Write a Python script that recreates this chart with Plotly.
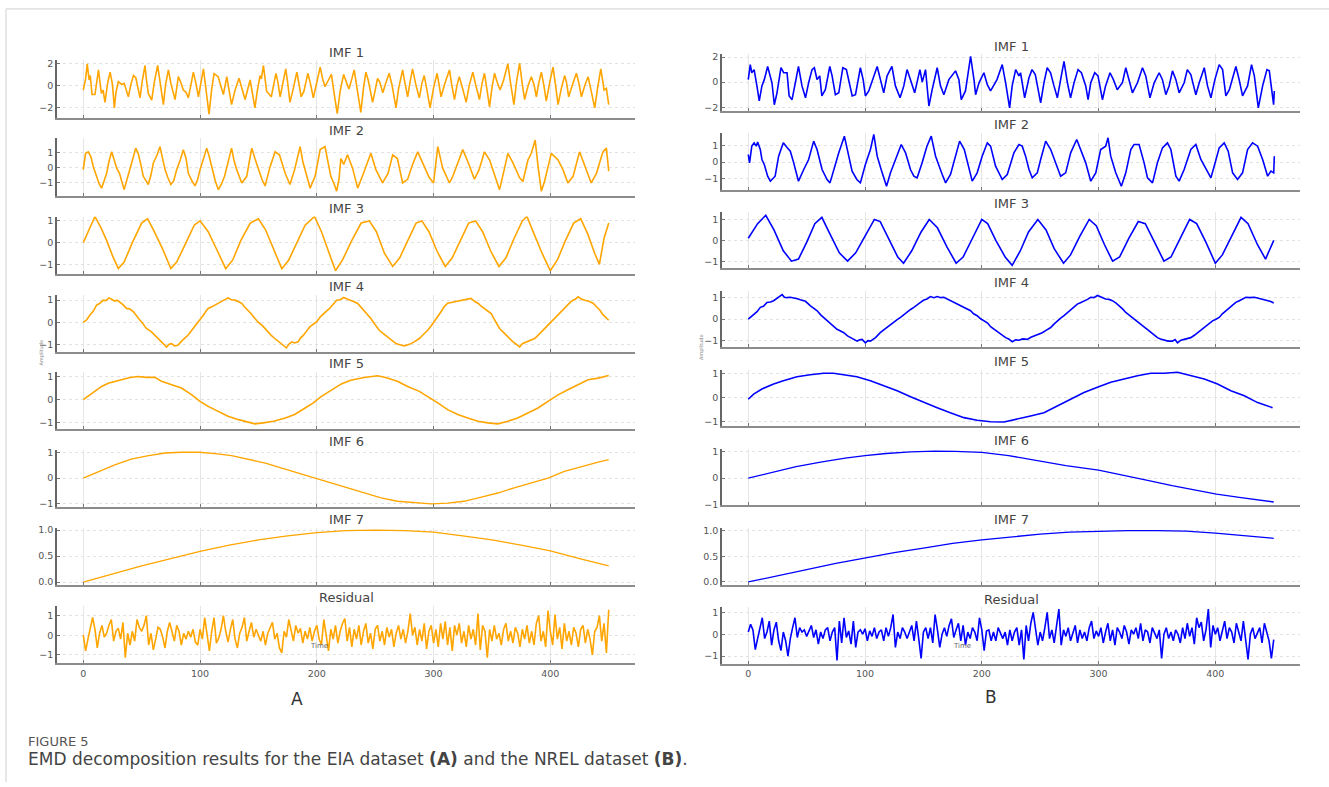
import plotly.graph_objects as go

W, H = 1329, 787

TITLES = ["IMF 1", "IMF 2", "IMF 3", "IMF 4", "IMF 5", "IMF 6", "IMF 7", "Residual"]
X_TICKS = [0, 100, 200, 300, 400]
Y_TICKS = [[-2, 0, 2], [-1, 0, 1], [-1, 0, 1], [-1, 0, 1], [-1, 0, 1], [-1, 0, 1], [0, 0.5, 1.0], [-1, 0, 1]]

# ---------------- Panel A (EIA) : (time, value) pairs ----------------
A_IMF1 = [(0,-0.4),(2,0.6),(3.4,1.95),(5,0.5),(6,0.9),(7.5,-0.8),(10,-0.8),(13,1.4),(15.5,-0.7),(17,-0.4),(18.6,-1.5),(21,0.3),(23,1.2),(25,0.1),(26.6,-2.0),(28,-0.6),(30,0.35),(33,0.1),(35,0.2),(38.6,-1.0),(41,0.2),(43,0.9),(45,0.7),(48.6,-1.1),(50.5,0.4),(52.9,1.8),(54,0.6),(55.7,-0.7),(58.6,-1.3),(61,0.4),(63.7,1.8),(66,0.2),(68.6,-1.7),(70.5,0.1),(72.9,1.4),(75,0.2),(78.6,-1.25),(81.4,0.8),(83.5,0.3),(85.7,-0.4),(88,-0.6),(90,-1.1),(94.3,1.2),(96.5,0.2),(98.6,-1.0),(102.9,1.5),(105,-0.2),(107.7,-2.55),(110,-0.3),(112,1.07),(115.5,0.8),(117.5,0.0),(120,-0.8),(122.9,0.8),(125,-0.5),(127,-1.7),(130,-0.4),(133.4,0.65),(136,-0.3),(138.6,-1.25),(142.9,0.5),(145,-0.8),(147,-2.0),(149,-0.5),(151.4,0.9),(152.5,0.6),(154.3,1.8),(157,-0.5),(161,-1.0),(165,1.1),(166.5,0.4),(168.6,-1.0),(171,0.2),(173.4,1.5),(175,0.3),(177,-1.5),(180,-0.2),(182.9,1.2),(184.5,0.3),(186.6,-1.0),(189,-0.5),(192.3,1.1),(194.5,0.2),(197,-1.1),(200,0.3),(202.9,1.65),(205,0.6),(207,-0.1),(210,0.5),(212.5,1.0),(215,-0.8),(217.5,-2.5),(220,-0.5),(223,1.0),(225,0.4),(227.5,-0.3),(230,0.6),(232,1.4),(235,-0.6),(237.7,-2.4),(240,-0.2),(242,1.2),(244,0.5),(247.8,-1.5),(250,-0.4),(252,0.65),(254,0.3),(256.5,-0.65),(259,0.2),(262,1.1),(264.5,0.0),(267.8,-2.0),(270,-0.3),(273.5,1.4),(275.5,0.2),(277.8,-1.0),(280,0.4),(282,1.5),(285,0.0),(287.8,-1.1),(290,0.2),(292,0.9),(294.5,-0.5),(297,-2.0),(300,-0.2),(303,1.1),(304.5,0.2),(306.4,-1.0),(310,0.3),(313.6,1.4),(315.5,0.1),(317.9,-1.25),(320,0.0),(322,0.8),(325,-0.3),(327.9,-1.5),(330.5,0.0),(333.6,1.2),(336,0.1),(339.3,-1.25),(341.5,0.2),(343.6,1.1),(345.5,-0.2),(347.9,-1.9),(350,-0.2),(352.2,1.1),(354.5,0.3),(357,-0.4),(360,0.5),(363.6,1.95),(366,0.2),(368.8,-1.7),(371,0.3),(373.7,2.0),(376,0.1),(378,-1.25),(381,0.0),(383.7,0.8),(386,0.1),(388,-1.0),(390,0.2),(392.3,1.2),(394.5,0.0),(396.5,-1.4),(399.5,0.3),(402.3,1.65),(404.5,0.0),(406.6,-1.7),(409.5,-0.2),(412.3,0.9),(414,0.2),(415.7,-1.0),(419,0.1),(422.3,1.1),(424.5,0.2),(426.6,-1.0),(429.5,0.0),(432.3,0.8),(435,-0.5),(438,-2.0),(440.5,-0.2),(443.2,1.5),(445,0.3),(446,-0.4),(448,-0.25),(450,-1.7)]

A_IMF2 = [(0,-0.15),(2,0.95),(4.3,1.05),(6.6,0.7),(8.6,0.05),(11.4,-0.7),(13.5,-1.1),(15.7,-1.4),(18,-0.9),(20,-0.4),(22,0.4),(24.3,1.05),(26.5,0.5),(28.6,-0.05),(31,-0.4),(35,-1.5),(37.5,-0.8),(40,-0.15),(42.5,0.6),(44.9,1.3),(47,0.95),(49,0.3),(51.4,-0.6),(55.7,-1.15),(58,-0.5),(60,0.3),(63,0.8),(65.7,1.4),(68,0.5),(70,-0.15),(72.5,-0.7),(75,-1.15),(77.5,-0.9),(80,-0.15),(83,0.5),(85.7,1.2),(88,0.6),(90,-0.4),(93,-0.9),(95.7,-1.25),(98,-0.8),(100,-0.15),(103,0.6),(105.7,1.3),(108,0.7),(110,0.05),(113,-0.9),(115.7,-1.5),(118.5,-1.1),(121,-0.6),(124,0.4),(127,1.3),(129,0.5),(131.4,-0.15),(135.7,-1.05),(140,-0.6),(142,0.3),(144.3,1.3),(147,0.6),(150,-0.15),(153,-0.8),(155.7,-1.25),(158,-0.5),(160,0.05),(164.3,1.05),(168,0.85),(172.9,-0.4),(177,-1.15),(181,-0.15),(183.5,0.6),(185.7,1.4),(188,0.4),(190,-0.15),(194.3,-1.4),(198.5,-0.6),(202.9,1.2),(207,1.4),(209,0.6),(212,-0.6),(215,-1.15),(217,-1.6),(219,-0.8),(220.6,0.6),(223,0.2),(226.3,0.85),(230.6,-0.05),(235,-1.4),(239,-0.6),(243,0.3),(246.3,0.95),(250.6,-0.15),(256.3,-1.05),(261,-0.4),(265,0.85),(269,0.6),(273.5,-1.05),(277.8,-0.8),(282,0.2),(286.4,1.05),(292,0.05),(296.4,-0.7),(300,-1.05),(303.6,1.4),(307.8,-0.05),(313.6,-1.05),(316.5,-0.6),(320,0.2),(325,1.2),(329.3,0.4),(335,-0.8),(339,-0.15),(343.6,1.05),(348,0.5),(352,-0.4),(356.5,-1.5),(360.8,-0.05),(363.6,0.95),(368,0.3),(373.7,-0.7),(376.5,-0.95),(380.8,0.5),(383.7,0.95),(387,1.85),(389.5,0.05),(392.3,-1.6),(395,-0.95),(400.8,0.95),(406.6,0.5),(410.8,-0.15),(415,-1.05),(419.5,-0.6),(425,1.05),(429.5,0.05),(435,-1.05),(439.5,-0.4),(445,1.05),(448,1.3),(450,-0.25)]

A_IMF3 = [(0,0.0),(5,0.6),(10,1.2),(15,0.7),(20,0.1),(25,-0.6),(30,-1.2),(35,-0.9),(42,0.0),(50,0.9),(55,1.1),(60,0.6),(68,-0.3),(75,-1.2),(80,-0.9),(88,0.0),(95,0.8),(100,1.0),(107,0.5),(115,-0.4),(122,-1.2),(128,-0.8),(135,0.1),(143,0.9),(150,1.1),(156,0.6),(163,-0.3),(170,-1.2),(176,-0.8),(183,0.0),(190,0.8),(198,1.2),(204,0.5),(210,-0.4),(216,-1.3),(222,-0.8),(230,0.1),(238,0.9),(245,1.0),(251,0.5),(258,-0.5),(265,-1.1),(271,-0.7),(278,0.1),(285,0.9),(290,1.0),(296,0.5),(303,-0.4),(310,-1.1),(316,-0.7),(323,0.1),(330,0.9),(336,1.0),(342,0.5),(349,-0.4),(356,-1.1),(362,-0.7),(369,0.2),(376,1.0),(380,1.2),(386,0.4),(393,-0.5),(400,-1.3),(406,-0.8),(413,0.1),(420,0.9),(426,1.1),(432,0.4),(438,-0.5),(442,-1.0),(446,0.2),(450,0.9)]

A_IMF4 = [(0,0.0),(3,0.12),(5.7,0.33),(8.5,0.5),(11.4,0.78),(14,0.85),(17,1.0),(19.5,0.98),(22,1.1),(24.5,1.02),(27,0.96),(29,1.0),(31,0.93),(34,0.8),(37,0.63),(40,0.6),(43,0.48),(46,0.3),(48.6,0.1),(51,-0.05),(54,-0.27),(58,-0.4),(61.4,-0.57),(64,-0.72),(67,-0.87),(69,-0.95),(71.4,-1.1),(73.5,-0.98),(75.7,-0.95),(78,-1.05),(81,-1.02),(84,-0.85),(87,-0.72),(90,-0.55),(92.9,-0.35),(96,-0.15),(98.6,0.03),(101,0.2),(103,0.33),(105,0.5),(107,0.63),(110,0.7),(113,0.78),(116,0.85),(118.6,0.93),(121,1.0),(124,1.1),(127,1.02),(130,1.0),(133,0.93),(135.7,0.86),(138,0.7),(141,0.56),(144,0.38),(147,0.18),(150,0.0),(153,-0.12),(156,-0.3),(158.6,-0.42),(161,-0.58),(164,-0.72),(167,-0.85),(170,-0.95),(172,-1.05),(174,-1.14),(176,-0.98),(178.6,-0.87),(181,-0.92),(184,-0.87),(186,-0.7),(188.6,-0.57),(191,-0.4),(194,-0.2),(197,-0.08),(200,0.03),(203,0.25),(205.7,0.4),(208,0.5),(211,0.63),(214,0.8),(217,1.0),(220,1.02),(223,1.12),(226,1.05),(229,1.0),(232,0.93),(235,0.85),(239,0.63),(243,0.4),(246.3,0.18),(250,-0.1),(253.5,-0.35),(257,-0.5),(260.6,-0.65),(264,-0.8),(267.8,-0.95),(271,-1.0),(275,-1.05),(278,-1.0),(280.7,-0.95),(284,-0.85),(287.8,-0.72),(291,-0.55),(295,-0.35),(298,-0.15),(300.7,0.03),(304,0.3),(306.4,0.48),(309,0.7),(312,0.86),(316,0.9),(319.3,0.93),(323,0.98),(326.4,1.0),(329,1.05),(332,1.08),(335,0.95),(338,0.86),(341,0.72),(343.6,0.63),(346,0.55),(349.3,0.4),(353,0.05),(356.5,-0.27),(359,-0.4),(362.2,-0.57),(365,-0.72),(368,-0.87),(371,-0.98),(373.7,-1.1),(376,-0.95),(379.4,-0.87),(383,-0.82),(386.5,-0.72),(389,-0.6),(392.3,-0.42),(395,-0.28),(398,-0.12),(401,0.05),(403.7,0.18),(406.5,0.35),(409.4,0.48),(412,0.65),(415,0.78),(417,0.9),(419.4,1.0),(421.5,1.05),(423.7,1.15),(426.5,1.05),(429.5,1.0),(433,0.95),(436.6,0.86),(439.5,0.7),(442.3,0.56),(445,0.35),(448,0.18),(450,0.1)]

A_IMF5 = [(0,0.0),(5.7,0.21),(10,0.36),(15.7,0.57),(21.4,0.71),(27,0.79),(33,0.86),(40,0.96),(47,1.0),(54,0.96),(61.4,0.96),(67,0.79),(75.7,0.64),(84,0.5),(93,0.21),(100,-0.07),(107,-0.29),(115.7,-0.5),(124,-0.71),(133,-0.86),(141.4,-0.96),(147,-1.04),(154,-1.0),(162.9,-0.93),(173,-0.79),(181,-0.64),(190,-0.36),(197,-0.14),(204,0.14),(213,0.43),(221,0.68),(229,0.84),(240.6,0.96),(252,1.03),(259,0.96),(269,0.79),(277.8,0.57),(287.8,0.36),(295,0.14),(303.6,-0.14),(312,-0.43),(320.7,-0.64),(329.3,-0.79),(338,-0.93),(346.5,-1.0),(355,-1.04),(363.6,-0.93),(372,-0.79),(380.8,-0.57),(389.4,-0.36),(398,-0.07),(406.6,0.21),(415,0.43),(423.7,0.64),(432.3,0.86),(441,0.93),(446.6,1.0),(450,1.04)]

A_IMF6 = [(0,0.0),(13,0.26),(27,0.51),(41,0.73),(56,0.87),(70,0.97),(84,1.0),(99,1.0),(113,0.95),(127,0.87),(141,0.74),(156,0.58),(170,0.38),(184,0.19),(199,0.0),(213,-0.19),(226,-0.38),(241,-0.58),(255,-0.77),(269,-0.9),(283,-0.96),(298,-1.0),(312,-0.97),(326,-0.9),(341,-0.74),(355,-0.58),(369,-0.38),(384,-0.19),(398,0.0),(412,0.26),(427,0.45),(441,0.62),(450,0.71)]

A_IMF7 = [(0,0.0),(25,0.16),(50,0.31),(75,0.45),(100,0.59),(125,0.71),(150,0.81),(175,0.89),(200,0.95),(225,0.99),(250,1.0),(275,0.99),(300,0.96),(325,0.89),(350,0.81),(375,0.71),(400,0.6),(425,0.45),(450,0.31)]

# residual sampled every 2 time steps
A_RES = [0.0,-0.8,-0.2,0.3,0.9,0.3,-0.65,0.1,0.5,-0.1,0.1,0.5,0.8,-0.3,0.2,0.35,-0.2,0.65,-1.15,0.1,
         -0.5,0.2,-0.3,0.8,0.4,0.2,0.5,1.0,-0.5,0.1,-0.75,-0.2,0.4,0.3,-0.1,-0.65,0.2,0.65,0.1,-0.3,
         0.5,0.2,-0.5,0.1,-0.2,0.2,-0.1,0.3,-0.35,-0.5,0.3,-0.2,0.9,0.1,-0.8,0.2,0.9,-0.4,-0.15,0.3,
         1.0,0.2,-0.35,0.3,0.8,-0.2,-0.65,0.1,0.4,0.9,-0.3,0.2,0.65,-0.1,0.3,0.0,-0.3,0.2,-0.5,0.1,
         0.4,0.65,-0.2,0.1,-0.65,-0.9,0.2,-0.1,0.8,0.2,-0.3,0.5,0.1,0.35,-0.4,0.2,-0.2,0.4,-0.3,0.2,
         0.5,-0.2,-0.5,0.8,0.1,-0.8,0.3,-0.2,0.5,-0.4,0.2,0.6,0.85,-0.3,0.4,-0.6,0.3,-0.2,0.5,-0.5,
         0.2,0.6,-0.4,0.1,-0.7,0.3,0.5,-0.3,0.2,-0.5,0.4,-0.1,0.3,-0.6,0.1,0.5,-0.2,0.3,-0.4,0.2,
         1.1,0.0,0.4,-0.5,0.3,-0.3,0.6,-0.7,0.2,0.5,-0.4,0.3,-0.6,0.6,-0.2,0.7,-0.5,0.4,-0.8,0.5,
         0.0,0.6,-0.4,0.2,-0.6,0.5,-0.2,0.3,-0.5,1.1,-0.75,0.5,0.2,-1.15,0.3,-0.3,0.5,-0.2,0.1,-0.5,
         0.3,0.6,-0.3,0.2,-0.4,0.4,0.1,-0.6,0.3,-0.2,0.5,-0.4,0.2,-0.5,0.6,1.0,-0.3,0.2,-0.6,1.25,
         0.2,-0.5,1.05,-0.2,0.4,-0.7,0.6,-0.3,0.2,-0.5,0.4,0.1,-0.6,0.3,0.5,-0.4,0.3,-0.2,-1.0,0.2,
         0.4,1.0,-0.3,0.6,-0.9,1.3]

# ---------------- Panel B (NREL) ----------------
B_IMF1 = [(0,0.2),(1.7,1.4),(3,0.75),(5,1.0),(7.4,-0.3),(9.4,-1.5),(11.7,-0.3),(13.7,0.2),(16.6,1.25),(18.9,0.5),(20.3,-0.05),(22.3,-1.8),(24.6,-0.85),(28,1.15),(30.3,0.75),(33.2,0.75),(35,-1.1),(37.5,-1.4),(40.3,0.1),(43,1.25),(46,-0.3),(49,-1.25),(51.7,-0.05),(54.6,1.0),(56.6,1.15),(58.9,0.2),(61.2,0.5),(63,-1.1),(66,-0.6),(69.8,1.25),(71.8,0.5),(74.6,-1.0),(77.5,-0.85),(81,1.15),(84,1.0),(86,0.1),(89,-1.1),(91.8,-1.0),(96,1.15),(98.4,0.2),(100.3,-1.1),(103.2,-0.7),(110.4,1.25),(113.2,0.2),(116,-0.85),(118.9,0.5),(123,1.25),(126,-0.3),(130,-1.25),(133.2,-0.3),(136,1.0),(138.9,0.2),(142.5,-0.85),(147,1.0),(149,0.0),(151.8,1.0),(154.7,-1.9),(157.5,-0.6),(161.8,1.15),(164.6,-0.3),(167.5,-1.0),(171.8,0.2),(177.5,0.9),(180.4,0.2),(182.4,-1.4),(186,-0.7),(190.4,2.05),(193.3,0.2),(194.7,-1.0),(197.6,-0.05),(201.8,0.75),(204.7,-0.2),(207.5,-0.7),(213,0.2),(217.5,1.4),(220.4,-0.05),(223.8,-2.05),(226,-0.3),(229,1.0),(231.8,0.5),(233.2,0.75),(236.7,-1.25),(240.4,0.35),(243,1.0),(245.8,0.6),(250.4,-1.65),(253.2,-0.05),(256,1.15),(258.9,0.75),(261.8,-0.3),(264.7,-1.25),(267.5,0.2),(270.4,1.65),(273.3,-0.05),(276,-1.25),(279,-0.05),(282.4,1.0),(285.3,0.75),(289,-0.3),(291,-1.4),(293.3,-0.05),(296.7,0.75),(299.5,0.5),(303.3,-1.4),(306,-0.3),(309.8,0.75),(312.7,0.2),(316,-0.6),(320.4,-0.05),(323.3,1.15),(326.2,0.2),(329,-0.85),(333.3,-0.05),(337.6,1.15),(340.4,0.5),(344,-1.25),(347.6,-0.05),(351.9,0.75),(354.7,0.2),(357.6,-1.0),(360.4,-0.3),(363.3,0.9),(366.2,0.2),(369,-0.85),(373.3,-0.05),(376,1.0),(379,0.6),(383.3,-1.0),(386.2,-0.05),(390.5,1.15),(393.3,-0.3),(396.2,-1.25),(399.6,0.2),(403.3,1.4),(406.2,1.0),(409,-1.1),(412,-0.6),(417.6,1.25),(420.4,0.2),(423.3,-1.1),(427.6,-0.3),(431,1.4),(433.4,0.5),(436.8,-2.05),(440.5,-0.3),(444.2,1.0),(446.2,0.9),(447.6,-0.3),(449.9,-1.8),(450.5,-0.7)]

B_IMF2 = [(0,0.45),(1.1,-0.05),(3,0.95),(5,1.15),(6.9,0.95),(8,1.2),(10.3,0.75),(11.7,0.15),(13.7,-0.15),(16.6,-0.85),(18.9,-1.15),(23,-0.85),(26,0.35),(30,1.15),(33.4,0.85),(36,0.65),(38.9,-0.05),(43,-1.15),(47.5,-0.45),(51.7,0.15),(56,1.25),(58.9,0.75),(63.2,-0.45),(67.5,-1.05),(70,-1.25),(73.2,-0.45),(77.5,0.55),(82.3,1.55),(84.6,0.75),(88.9,-0.55),(93,-1.05),(96,-1.25),(100.3,-0.15),(104.6,0.75),(107.5,1.65),(110.4,0.35),(113.8,-0.45),(118.4,-1.45),(121.8,-0.65),(126.1,0.15),(131,1.05),(134.7,0.55),(138.9,-0.45),(141.8,-0.85),(144.6,-0.95),(148.9,-0.05),(153,0.95),(156.7,1.55),(160.4,0.35),(166.1,-0.75),(169,-1.25),(173.2,-0.75),(177.5,0.35),(181,1.25),(185,0.75),(188.9,-0.45),(191.8,-1.15),(196,-0.65),(200.3,0.35),(204.7,1.15),(207.5,0.95),(211.8,-0.25),(217.5,-1.05),(221.8,-0.75),(227.5,0.55),(231.8,1.05),(234.6,0.95),(237.5,0.35),(240.4,-0.45),(243.2,-0.95),(247.5,-0.65),(250.4,0.15),(254.7,1.25),(259,0.75),(263.2,-0.05),(267.5,-0.85),(271.8,-0.65),(276.1,0.55),(281.3,1.35),(284.7,0.75),(289,-0.05),(293.3,-1.15),(297.6,-0.65),(301.8,0.75),(306.1,0.95),(308.1,1.45),(310.4,0.35),(314.7,-0.65),(319.5,-1.45),(323.3,-0.65),(327.6,0.75),(330.4,1.05),(334.7,1.05),(339,-0.05),(341.9,-0.95),(346.2,-1.25),(350.4,-0.05),(354.7,0.85),(359,1.15),(361.9,0.75),(366.2,-0.85),(369,-1.15),(373.3,-0.45),(379,0.75),(383.3,1.05),(387.6,0.15),(391.9,-0.45),(396.2,-0.95),(399,-0.25),(403.3,0.85),(407.6,1.15),(411,0.65),(414.8,-0.65),(419,-1.05),(423.3,-0.65),(427.6,0.75),(431.9,1.15),(436.2,0.95),(440.5,0.15),(444.8,-0.85),(447.6,-0.55),(450,-0.65),(450.5,0.35)]

B_IMF3 = [(0,0.1),(8,0.8),(15,1.2),(22,0.5),(30,-0.5),(37,-1.0),(43,-0.9),(50,-0.1),(57,0.8),(63,1.1),(70,0.3),(78,-0.6),(85,-1.0),(92,-0.6),(100,0.2),(108,1.0),(113,0.9),(120,0.1),(128,-0.8),(133,-1.1),(140,-0.5),(148,0.4),(155,1.0),(162,0.6),(170,-0.3),(178,-1.1),(184,-0.8),(192,0.1),(200,1.0),(205,0.8),(212,0.0),(220,-0.8),(226,-1.2),(233,-0.5),(240,0.4),(248,1.0),(255,0.5),(262,-0.4),(270,-1.1),(276,-0.7),(284,0.2),(292,1.0),(298,0.7),(305,-0.2),(312,-1.0),(318,-0.8),(326,0.1),(334,0.9),(340,0.8),(348,-0.1),(356,-1.0),(362,-0.8),(370,0.1),(378,1.0),(384,0.8),(392,-0.1),(400,-1.1),(406,-0.7),(414,0.2),(422,1.1),(428,0.8),(436,-0.2),(443,-0.9),(450,0.0)]

B_IMF4 = [(0,0.0),(2,0.1),(4.6,0.23),(7.5,0.35),(10.3,0.55),(13,0.6),(16,0.78),(19,0.8),(21.7,0.86),(24,0.95),(26,1.02),(29,1.14),(31,1.02),(33,1.0),(36,1.02),(39,1.0),(42,0.95),(44.6,0.9),(49,0.83),(53,0.63),(56,0.5),(59,0.39),(62,0.2),(64.6,0.08),(67,-0.05),(70,-0.16),(73,-0.3),(76,-0.47),(79,-0.55),(81.8,-0.63),(85,-0.78),(87.5,-0.86),(90.5,-0.95),(93.2,-1.02),(95.5,-0.96),(97.5,-0.94),(100.3,-1.1),(102.5,-1.0),(104.6,-1.02),(107,-0.92),(109,-0.86),(113,-0.63),(116,-0.5),(119,-0.39),(122,-0.28),(124.6,-0.16),(127.5,-0.02),(130.4,0.08),(133,0.2),(136,0.31),(139,0.45),(141.8,0.55),(144.5,0.68),(147.5,0.78),(150,0.88),(153,0.94),(156,1.05),(159,1.0),(161.8,1.05),(165,1.0),(167.5,1.02),(170,0.95),(173,0.86),(176,0.78),(179,0.7),(182,0.6),(184.7,0.55),(187.5,0.45),(190.4,0.39),(193,0.25),(196,0.16),(199,0.02),(201.8,-0.08),(205,-0.18),(207.5,-0.35),(210,-0.45),(213,-0.6),(216.5,-0.7),(220.4,-0.86),(223,-0.92),(226,-1.05),(229,-0.96),(231.8,-0.98),(235,-0.92),(239,-0.94),(242,-0.84),(244.7,-0.78),(248,-0.72),(251.8,-0.63),(255,-0.52),(259,-0.39),(262,-0.22),(264.7,-0.08),(267.5,0.05),(270.4,0.16),(273,0.28),(276,0.39),(279,0.55),(281.8,0.7),(284.5,0.76),(287.5,0.83),(290.5,0.92),(293.3,1.02),(296,1.0),(299,1.1),(302.5,1.02),(306,0.94),(309,0.92),(311.8,0.86),(315,0.75),(317.6,0.63),(320.5,0.48),(323.3,0.31),(326,0.2),(329,0.08),(332.5,-0.08),(336.2,-0.23),(340,-0.4),(343.3,-0.55),(347,-0.7),(350.4,-0.86),(353,-0.92),(356.2,-0.98),(359.5,-1.02),(363.3,-1.02),(365.5,-0.95),(367.6,-1.1),(370.5,-0.98),(373.3,-0.94),(376,-0.9),(379,-0.86),(382,-0.75),(384.7,-0.63),(387.5,-0.5),(390.5,-0.39),(394,-0.22),(397.6,-0.08),(400.5,0.0),(403.3,0.08),(406,0.25),(409,0.39),(412,0.55),(414.8,0.7),(417.5,0.78),(420.5,0.86),(423.5,0.95),(426.2,1.02),(429.5,1.0),(433.3,1.02),(436,0.98),(439,0.94),(442,0.92),(444.8,0.86),(447.5,0.82),(450,0.75)]

B_IMF5 = [(0,-0.07),(4.6,0.14),(11.7,0.35),(21.7,0.56),(30,0.69),(41.7,0.86),(53,0.94),(64.6,1.0),(73,1.0),(81.8,0.94),(93,0.86),(104.6,0.69),(116,0.49),(127.5,0.28),(139,0.03),(150.4,-0.21),(161.8,-0.42),(173,-0.63),(184.7,-0.83),(196,-0.94),(207.5,-1.0),(219,-1.01),(230.4,-0.9),(241.8,-0.76),(253.2,-0.63),(264.7,-0.35),(276,-0.07),(287.5,0.21),(299,0.42),(310.4,0.63),(321.9,0.76),(333.3,0.9),(344.7,1.0),(356.2,1.0),(367.6,1.04),(379,0.9),(390.5,0.76),(401.9,0.56),(413.3,0.28),(424.8,0.07),(436.2,-0.21),(449,-0.42)]

B_IMF6 = [(0,0.0),(20,0.21),(41,0.43),(62,0.6),(83,0.75),(100,0.84),(118,0.92),(139,0.98),(160,1.01),(177,1.0),(200,0.96),(223,0.84),(247,0.66),(272,0.47),(300,0.3),(321,0.12),(342,-0.08),(363,-0.28),(384,-0.46),(401,-0.6),(422,-0.73),(440,-0.84),(450,-0.89)]

B_IMF7 = [(0,0.0),(20,0.1),(50,0.24),(75,0.36),(100,0.47),(125,0.57),(150,0.66),(175,0.75),(200,0.82),(225,0.88),(250,0.93),(275,0.97),(300,0.99),(325,1.0),(350,1.0),(375,0.99),(400,0.95),(425,0.9),(450,0.85)]

B_RES = [0.1,0.45,0.2,-0.7,-0.2,0.3,0.75,-0.2,0.1,0.6,-0.5,0.2,0.55,-0.3,-0.75,0.1,-0.3,-1.0,-0.2,0.3,
         0.75,-0.15,0.3,0.1,0.2,-0.1,0.2,0.4,-0.15,0.2,-0.45,0.1,-0.2,0.2,0.3,-0.3,0.1,0.3,-1.2,0.6,
         -0.4,0.75,-0.15,0.15,-0.45,0.6,-0.6,0.1,0.2,0.0,0.25,-0.3,0.15,-0.1,0.3,-0.2,0.1,0.2,-0.3,0.3,
         -0.1,0.3,0.9,-0.6,0.1,-0.2,0.3,0.1,-0.2,0.15,0.4,-0.3,0.6,-0.2,-1.1,0.1,0.3,-0.2,0.3,-0.4,
         0.9,0.2,-0.6,0.0,0.3,-0.1,0.4,0.7,-0.15,0.2,0.5,-0.3,0.4,-0.5,0.1,-0.2,0.3,0.1,-0.3,0.75,
         0.2,-0.75,0.15,0.2,-0.3,0.1,-0.3,0.3,0.0,-0.2,0.1,-0.5,0.2,-0.3,0.1,0.3,-0.5,0.2,-1.15,0.4,
         -0.3,0.5,1.0,0.3,-0.5,0.1,-0.3,0.3,1.0,-0.2,0.2,-0.4,0.5,1.15,-0.5,0.2,-0.1,0.3,-0.3,0.1,
         0.4,-0.4,0.2,-0.2,0.1,-0.3,0.3,0.6,-0.2,0.15,-0.1,0.3,-0.4,0.1,0.5,-0.3,0.2,-0.5,0.3,0.1,
         -0.2,0.4,0.1,-0.45,0.2,0.0,0.3,-0.2,0.5,-0.3,0.2,0.1,-0.4,0.3,0.05,-0.2,0.2,-1.1,0.0,0.3,
         -0.2,0.1,-0.3,0.2,0.0,-0.4,0.3,-0.2,0.5,-0.1,0.3,-0.45,0.75,0.3,0.55,-0.3,0.2,1.15,-0.6,0.4,
         0.0,0.3,-0.3,0.2,0.6,-0.2,0.3,0.1,-0.4,0.5,0.15,-0.3,0.6,-0.2,-1.15,0.0,0.3,-0.2,0.1,0.3,
         -0.4,0.5,0.1,-0.3,-1.1,-0.25]

A_SERIES = [A_IMF1, A_IMF2, A_IMF3, A_IMF4, A_IMF5, A_IMF6, A_IMF7,
            [(2 * i, v) for i, v in enumerate(A_RES)]]
B_SERIES = [B_IMF1, B_IMF2, B_IMF3, B_IMF4, B_IMF5, B_IMF6, B_IMF7,
            [(2 * i, v) for i, v in enumerate(B_RES)]]

# ---------------- layout geometry (target pixels from the top-left corner) ----------------
PANELS = [
    dict(series=A_SERIES, color="#FFA500", x=(57, 635),
         bottoms=[117, 195, 273, 351, 428, 506, 584, 662], height=57.5,
         yranges=[[-2.9, 2.25], [-1.93, 1.95], [-1.45, 1.2], [-1.33, 1.25],
                  [-1.27, 1.21], [-1.13, 1.1], [-0.06, 1.045], [-1.43, 1.5]]),
    dict(series=B_SERIES, color="#0000FF", x=(722, 1300),
         bottoms=[110, 188.5, 267, 346, 425, 504, 583.3, 662.3], height=56.5,
         yranges=[[-2.3, 2.21], [-1.65, 1.74], [-1.33, 1.38], [-1.3, 1.33],
                  [-1.18, 1.15], [-1.01, 1.1], [-0.05, 1.05], [-1.34, 1.24]]),
]

# the captured page comes out slightly compressed vertically; map target pixels accordingly
Y_SCALE, Y_SHIFT = 0.9893, 2.08


def py(v):
    return 1 - ((v - Y_SHIFT) / Y_SCALE) / H


FONT = "DejaVu Sans"
fig = go.Figure()
layout = dict(width=W, height=H, margin=dict(l=0, r=0, t=0, b=0),
              paper_bgcolor="white", plot_bgcolor="white", showlegend=False,
              hovermode=False, font=dict(family=FONT))
annotations = []
idx = 0
for p in PANELS:
    xl, xr = p["x"]
    for k in range(8):
        idx += 1
        sfx = "" if idx == 1 else str(idx)
        pts = p["series"][k]
        fig.add_trace(go.Scatter(
            x=[t for t, _ in pts], y=[v for _, v in pts], mode="lines",
            line=dict(color=p["color"], width=1.6 if k < 5 or k == 7 else 1.3),
            xaxis="x" + sfx, yaxis="y" + sfx, hoverinfo="skip"))
        bot = p["bottoms"][k]
        top = bot - p["height"]
        layout["xaxis" + sfx] = dict(
            domain=[xl / W, xr / W], range=[-22.5, 472.5], anchor="y" + sfx,
            tickmode="array", tickvals=X_TICKS, showticklabels=(k == 7),
            ticks="inside", ticklen=3, tickcolor="#777",
            tickfont=dict(size=9.5, color="#555", family=FONT),
            showline=True, linecolor="#8c8c8c", linewidth=2,
            showgrid=True, gridcolor="#e6e6e6", gridwidth=1, zeroline=False)
        layout["yaxis" + sfx] = dict(
            domain=[py(bot), py(top)], range=p["yranges"][k], anchor="x" + sfx,
            tickmode="array", tickvals=Y_TICKS[k],
            tickformat=".1f" if k == 6 else "",
            ticks="inside", ticklen=3, tickcolor="#777",
            tickfont=dict(size=9.5, color="#555", family=FONT),
            showline=True, linecolor="#666", linewidth=1.5,
            showgrid=True, gridcolor="#e2e2e2", gridwidth=1, griddash="dot",
            zeroline=False)
        annotations.append(dict(
            text=TITLES[k], x=(xl + xr) / 2 / W, y=py(top - 8),
            xref="paper", yref="paper", xanchor="center", yanchor="middle",
            showarrow=False, font=dict(size=13, color="#444", family=FONT)))

# small overlapping axis labels from the original
for x_px, y_px in [(308, 651), (973, 651)]:
    annotations.append(dict(text="Time", x=x_px / W, y=py(y_px), xref="paper", yref="paper",
                            showarrow=False, font=dict(size=7, color="#666", family=FONT)))
for x_px, y_px in [(36, 352), (701, 346)]:
    annotations.append(dict(text="Amplitude", x=x_px / W, y=py(y_px), xref="paper", yref="paper",
                            showarrow=False, textangle=-90, font=dict(size=5, color="#888", family=FONT)))

# panel letters
annotations.append(dict(text="A", x=297 / W, y=py(698), xref="paper", yref="paper",
                        xanchor="center", yanchor="middle",
                        showarrow=False, font=dict(size=17, color="#333", family=FONT)))
annotations.append(dict(text="B", x=991 / W, y=py(696), xref="paper", yref="paper",
                        xanchor="center", yanchor="middle",
                        showarrow=False, font=dict(size=17, color="#333", family=FONT)))

# caption
annotations.append(dict(text="FIGURE 5", x=26 / W, y=py(740), xref="paper", yref="paper",
                        xanchor="left", yanchor="middle", showarrow=False,
                        font=dict(size=13, color="#555", family=FONT)))
annotations.append(dict(text="EMD decomposition results for the EIA dataset <b>(A)</b> and the NREL dataset <b>(B)</b>.",
                        x=26 / W, y=py(758), xref="paper", yref="paper",
                        xanchor="left", yanchor="middle", showarrow=False,
                        font=dict(size=17, color="#444", family=FONT)))

layout["annotations"] = annotations
layout["shapes"] = [
    dict(type="line", xref="paper", yref="paper", x0=6 / W, x1=1, y0=py(8), y1=py(8),
         line=dict(color="#cfcfcf", width=1)),
    dict(type="line", xref="paper", yref="paper", x0=6 / W, x1=6 / W, y0=0, y1=py(8),
         line=dict(color="#cfcfcf", width=1)),
]
fig.update_layout(**layout)
fig.write_html("out.html", config={"displayModeBar": False},
               post_script="document.body.style.margin='0';document.body.style.overflow='hidden';")
